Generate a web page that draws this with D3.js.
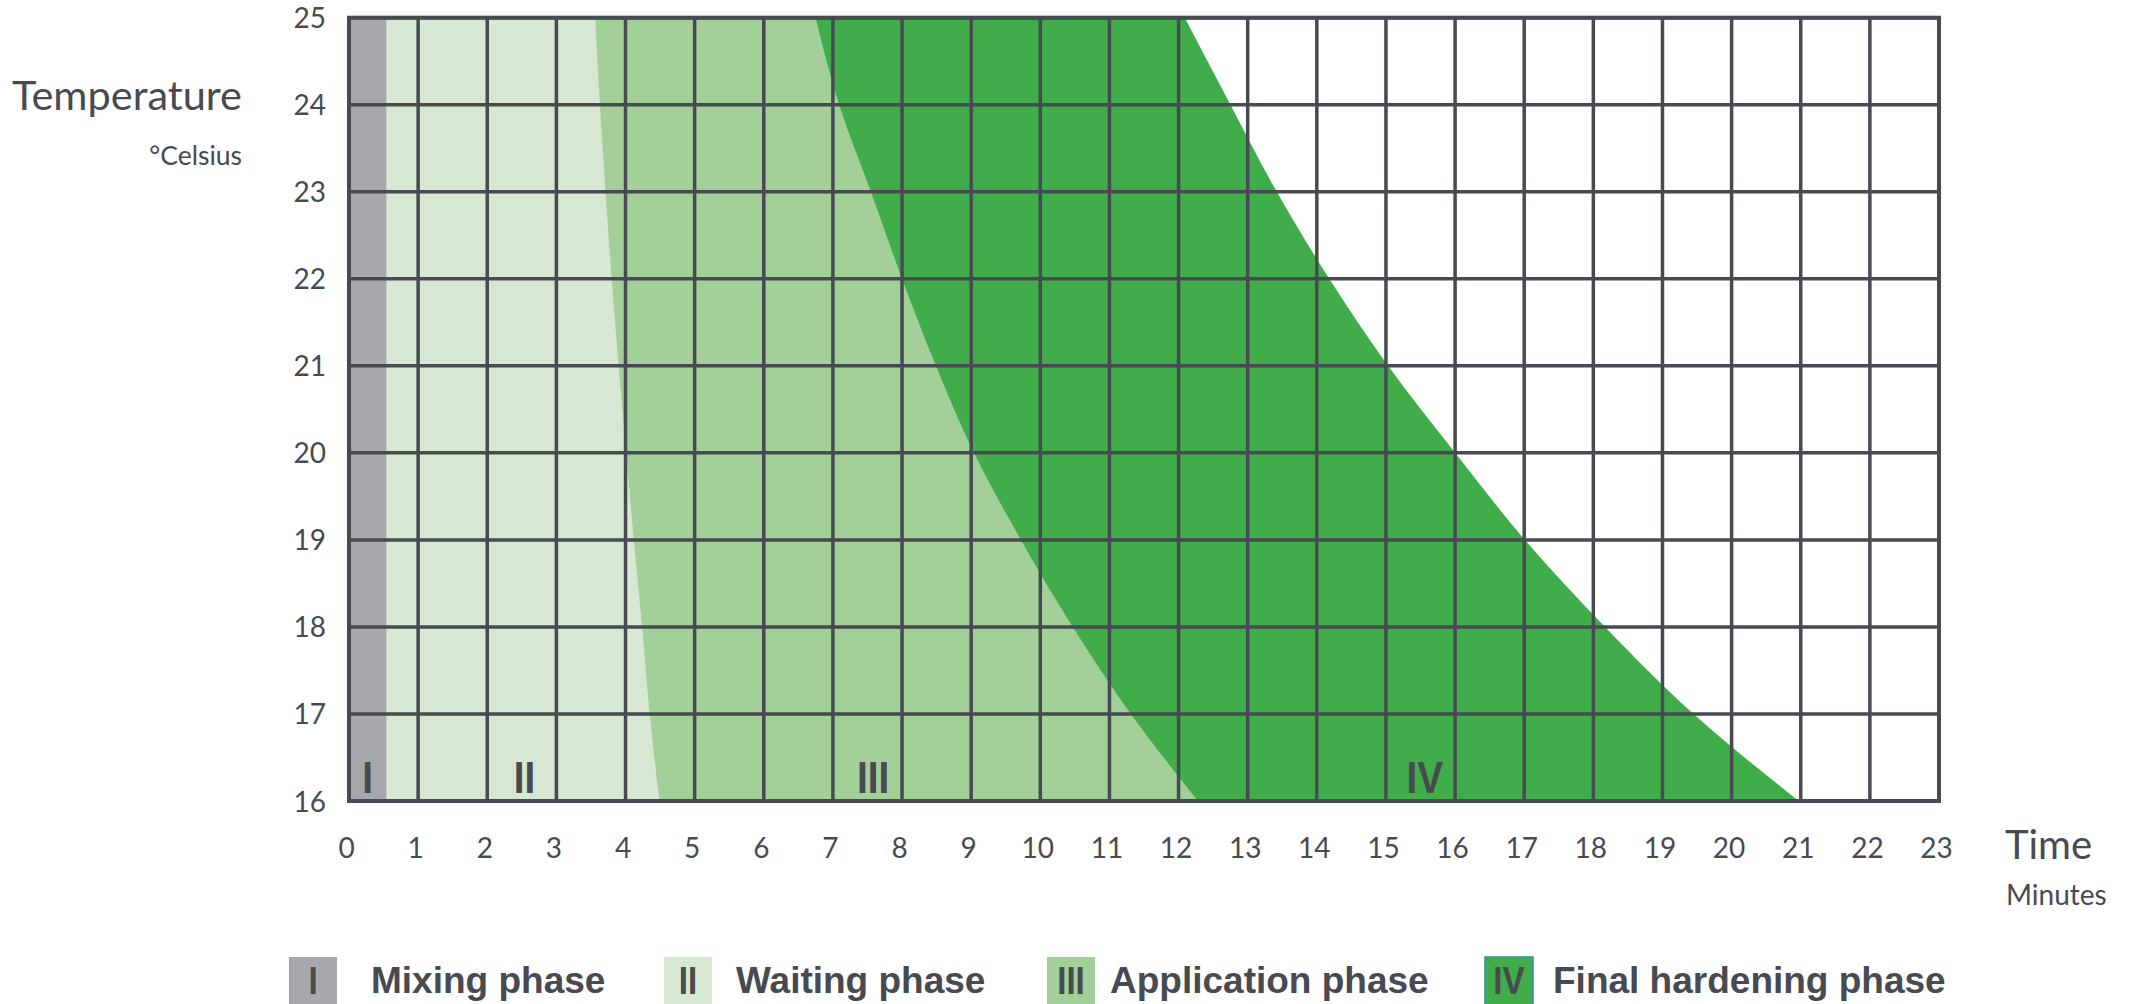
<!DOCTYPE html>
<html>
<head>
<meta charset="utf-8">
<script src="https://cdn.jsdelivr.net/npm/d3@7"></script>
<style>
    body { margin: 0; background: #fff; }
    svg { display: block; }
</style>
</head>
<body>
<svg id="chart"></svg>
<script>
var WIDTH = 2129,
    HEIGHT = 1004;
var LINE_COLOR = "#474a51",
    TEXT_COLOR = "#474a51";

//data
var temperatures = [25, 24, 23, 22, 21, 20, 19, 18, 17, 16];
var mixingEnd = [0.54, 0.54, 0.54, 0.54, 0.54, 0.54, 0.54, 0.54, 0.54, 0.54];
var waitingEnd = [3.56, 3.63, 3.71, 3.80, 3.90, 4.01, 4.12, 4.24, 4.35, 4.49];
var applicationEnd = [6.75, 7.09, 7.55, 8.00, 8.49, 9.04, 9.72, 10.47, 11.31, 12.28];
var hardeningEnd = [12.09, 12.75, 13.42, 14.18, 15.03, 16.00, 17.01, 18.17, 19.45, 20.97];

var phaseNames = ["Mixing phase", "Waiting phase", "Application phase", "Final hardening phase"];
var phaseNumerals = ["I", "II", "III", "IV"];
var phaseColors = ["#a7a8ab", "#d6e8d1", "#a3cf98", "#40ad4a"];
var phaseLabelTime = [0.27, 2.54, 7.58, 15.56];

var xTicks = [0, 1, 2, 3, 4, 5, 6, 7, 8, 9, 10, 11, 12, 13, 14, 15, 16, 17, 18, 19, 20, 21, 22, 23];
var yTicks = [16, 17, 18, 19, 20, 21, 22, 23, 24, 25];

//legend layout
var legendBoxX = [289, 664, 1047, 1485];
var legendTextX = [371, 736, 1110, 1553];

var svg = d3.select("#chart")
    .attr("width", WIDTH)
    .attr("height", HEIGHT);

var x = d3.scaleLinear().domain([0, 23]).range([349, 1939]);
var y = d3.scaleLinear().domain([16, 25]).range([801, 17.7]);

//phase areas, widest first so narrower ones sit on top
var phaseEnds = [mixingEnd, waitingEnd, applicationEnd, hardeningEnd];
for (var p = phaseEnds.length - 1; p >= 0; p--) {
    var ends = phaseEnds[p];
    var area = d3.area()
        .curve(d3.curveMonotoneY)
        .y(function (d, i) { return y(temperatures[i]); })
        .x0(x(0))
        .x1(function (d) { return x(d); });
    svg.append("path")
        .attr("class", "phase-" + p)
        .attr("d", area(ends))
        .style("fill", phaseColors[p]);
}

//grid lines
svg.selectAll(".v-grid")
    .data(xTicks)
    .enter().append("line")
    .attr("class", "v-grid")
    .attr("x1", function (d) { return x(d); })
    .attr("x2", function (d) { return x(d); })
    .attr("y1", y(25))
    .attr("y2", y(16))
    .style("stroke", LINE_COLOR)
    .style("stroke-width", 3.5);
svg.selectAll(".h-grid")
    .data(yTicks)
    .enter().append("line")
    .attr("class", "h-grid")
    .attr("x1", x(0))
    .attr("x2", x(23))
    .attr("y1", function (d) { return y(d); })
    .attr("y2", function (d) { return y(d); })
    .style("stroke", LINE_COLOR)
    .style("stroke-width", 3.5);
//outer border
svg.append("rect")
    .attr("x", x(0))
    .attr("y", y(25))
    .attr("width", x(23) - x(0))
    .attr("height", y(16) - y(25))
    .style("fill", "none")
    .style("stroke", LINE_COLOR)
    .style("stroke-width", 4);

//axes (labels only)
var xAxis = svg.append("g")
    .attr("transform", "translate(-3," + 858 + ")")
    .call(d3.axisBottom(x).tickValues(xTicks).tickSize(0).tickPadding(0));
var yAxis = svg.append("g")
    .attr("transform", "translate(" + 326 + ",0)")
    .call(d3.axisLeft(y).tickValues(yTicks).tickSize(0).tickPadding(0));
xAxis.select(".domain").remove();
yAxis.select(".domain").remove();
xAxis.selectAll("text")
    .attr("y", 0)
    .attr("dy", 0)
    .style("font", "28px Lato, sans-serif")
    .style("fill", TEXT_COLOR);
yAxis.selectAll("text")
    .attr("dy", "10")
    .style("font", "28px Lato, sans-serif")
    .style("fill", TEXT_COLOR);

//axis titles
svg.append("text")
    .attr("x", 242)
    .attr("y", 110)
    .style("text-anchor", "end")
    .style("font", "41.5px Lato, sans-serif")
    .style("fill", TEXT_COLOR)
    .text("Temperature");
svg.append("text")
    .attr("x", 242)
    .attr("y", 165)
    .style("text-anchor", "end")
    .style("font", "26.5px Lato, sans-serif")
    .style("fill", TEXT_COLOR)
    .text("°Celsius");
svg.append("text")
    .attr("x", 2005)
    .attr("y", 859)
    .style("font", "40px Lato, sans-serif")
    .style("fill", TEXT_COLOR)
    .text("Time");
svg.append("text")
    .attr("x", 2006)
    .attr("y", 905)
    .style("font", "28px Lato, sans-serif")
    .style("fill", TEXT_COLOR)
    .text("Minutes");

//phase numerals inside the chart
svg.selectAll(".phase-label")
    .data(phaseNumerals)
    .enter().append("text")
    .attr("class", "phase-label")
    .attr("transform", function (d, i) {
        return "translate(" + x(phaseLabelTime[i]) + "," + (y(16) - 8) + ") scale(0.88,1)";
    })
    .style("text-anchor", "middle")
    .style("font", "bold 44px 'Liberation Sans', Arial, sans-serif")
    .style("fill", TEXT_COLOR)
    .text(function (d) { return d; });

//legend
var legend = svg.selectAll(".legend-item")
    .data(phaseNames)
    .enter().append("g")
    .attr("class", "legend-item");
legend.append("rect")
    .attr("x", function (d, i) { return legendBoxX[i]; })
    .attr("y", 957)
    .attr("width", 48)
    .attr("height", 48)
    .style("fill", function (d, i) { return phaseColors[i]; })
    .style("stroke", function (d, i) { return i === 3 ? "#2e8fa0" : "none"; })
    .style("stroke-width", 1.5);
legend.append("text")
    .attr("transform", function (d, i) {
        return "translate(" + (legendBoxX[i] + 24) + ",994) scale(0.85,1)";
    })
    .style("text-anchor", "middle")
    .style("font", "bold 39px 'Liberation Sans', Arial, sans-serif")
    .style("fill", TEXT_COLOR)
    .text(function (d, i) { return phaseNumerals[i]; });
legend.append("text")
    .attr("x", function (d, i) { return legendTextX[i]; })
    .attr("y", 993)
    .style("font", "bold 37px 'Liberation Sans', Arial, sans-serif")
    .style("fill", TEXT_COLOR)
    .text(function (d) { return d; });
</script>
</body>
</html>
